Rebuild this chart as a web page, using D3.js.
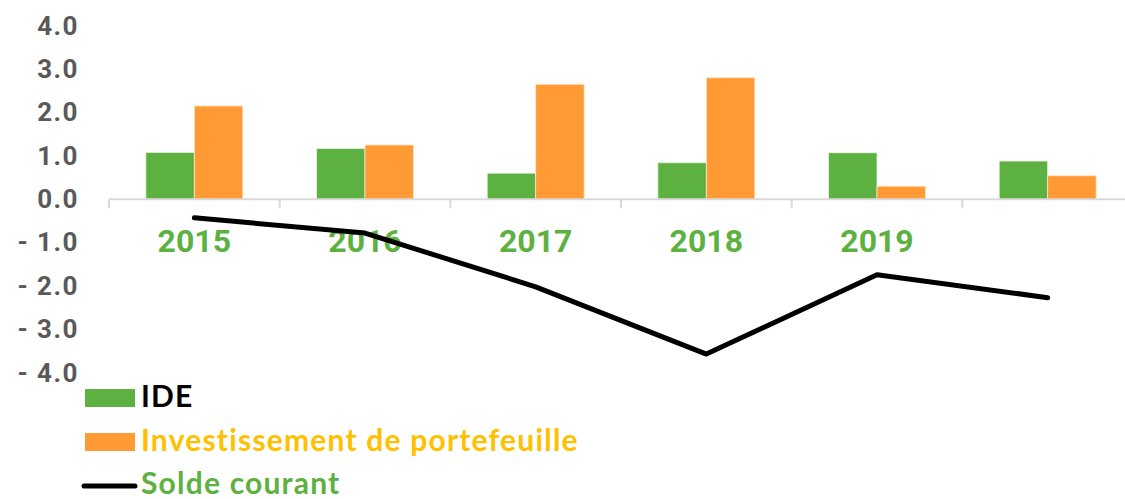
<!DOCTYPE html>
<html>
<head>
<meta charset="utf-8">
<script src="https://cdn.jsdelivr.net/npm/d3@7"></script>
<style>
  body { margin: 0; background: #fff; }
  svg { display: block; }
  .ylab text { font-family: Roboto, sans-serif; font-weight: 700; font-size: 26px; letter-spacing: 1.5px; fill: #595959; }
  .cat { font-family: Roboto, sans-serif; font-weight: 700; font-size: 32px; fill: #5DB141; }
  .leg { font-family: Lato, sans-serif; font-weight: 700; font-size: 30px; letter-spacing: 1.2px; }
</style>
</head>
<body>
<svg id="chart" width="1125" height="499"></svg>
<script>
const years = ["2015", "2016", "2017", "2018", "2019", "2020"];
const yearLabels = ["2015", "2016", "2017", "2018", "2019", ""];
const ide = [1.08, 1.17, 0.60, 0.84, 1.07, 0.88];
const portefeuille = [2.15, 1.25, 2.65, 2.80, 0.30, 0.54];
const soldeCourant = [-0.43, -0.78, -2.02, -3.57, -1.74, -2.27];
const yTicks = [-4, -3, -2, -1, 0, 1, 2, 3, 4];
const seriesNames = ["IDE", "Investissement de portefeuille", "Solde courant"];

const svg = d3.select("#chart");
const green = "#5DB141", orange = "#FF9A35";

const x = d3.scaleBand().domain(years).range([109, 1133]);
const xInner = d3.scaleBand().domain(["ide", "pf"]).range([0, x.bandwidth()]).paddingOuter(0.76);
const y = d3.scaleLinear().domain([-4, 4]).range([372.7, 25.7]);
const y0 = y(0);

// y labels
const yAxis = d3.axisLeft(y)
  .tickValues(yTicks)
  .tickSize(0)
  .tickPadding(0)
  .tickFormat(v => v < 0 ? "- " + d3.format(".1f")(-v) : d3.format(".1f")(v));
svg.append("g").attr("class", "ylab").attr("transform", "translate(79,0)").call(yAxis)
  .call(g => g.select(".domain").remove());

// bars
const rows = years.map((yr, i) => ({ yr, ide: ide[i], pf: portefeuille[i] }));
const groups = svg.append("g").selectAll("g").data(rows).join("g")
  .attr("transform", d => `translate(${x(d.yr)},0)`);
groups.append("rect")
  .attr("x", xInner("ide")).attr("width", xInner.bandwidth())
  .attr("y", d => y(d.ide)).attr("height", d => y0 - y(d.ide))
  .attr("fill", green).attr("stroke", "#e8f3e0").attr("stroke-width", 0.8);
groups.append("rect")
  .attr("x", xInner("pf")).attr("width", xInner.bandwidth())
  .attr("y", d => y(d.pf)).attr("height", d => y0 - y(d.pf))
  .attr("fill", orange).attr("stroke", "#ffe6cc").attr("stroke-width", 0.8);

// category axis
const axisG = svg.append("g").attr("stroke", "#D9D9D9").attr("stroke-width", 2);
axisG.append("line").attr("x1", x.range()[0]).attr("x2", x.range()[1]).attr("y1", y0).attr("y2", y0);
const edges = years.map(d => x(d)).concat([x.range()[1]]);
axisG.selectAll(".tk").data(edges).join("line").attr("class", "tk")
  .attr("x1", d => d).attr("x2", d => d).attr("y1", y0).attr("y2", y0 + 9);

svg.append("g").selectAll("text").data(years).join("text")
  .attr("class", "cat")
  .attr("x", d => x(d) + x.bandwidth() / 2)
  .attr("y", 252)
  .attr("text-anchor", "middle")
  .text((d, i) => yearLabels[i]);

// solde courant line
const line = d3.line()
  .x((d, i) => x(years[i]) + x.bandwidth() / 2)
  .y(d => y(d));
svg.append("path").datum(soldeCourant)
  .attr("d", line)
  .attr("fill", "none").attr("stroke", "#000").attr("stroke-width", 5)
  .attr("stroke-linejoin", "round").attr("stroke-linecap", "round");

// legend
const leg = svg.append("g");
leg.append("rect").attr("x", 85).attr("y", 389).attr("width", 50).attr("height", 18).attr("fill", green);
leg.append("rect").attr("x", 85).attr("y", 433).attr("width", 50).attr("height", 18).attr("fill", orange);
leg.append("line").attr("x1", 84).attr("x2", 135).attr("y1", 486).attr("y2", 486)
  .attr("stroke", "#000").attr("stroke-width", 5).attr("stroke-linecap", "round");
const legColors = ["#000", "#FFC000", green];
const legY = [407, 451, 494];
leg.selectAll("text").data(seriesNames).join("text")
  .attr("class", "leg")
  .attr("x", 141)
  .attr("y", (d, i) => legY[i])
  .attr("fill", (d, i) => legColors[i])
  .text(d => d);
</script>
</body>
</html>
